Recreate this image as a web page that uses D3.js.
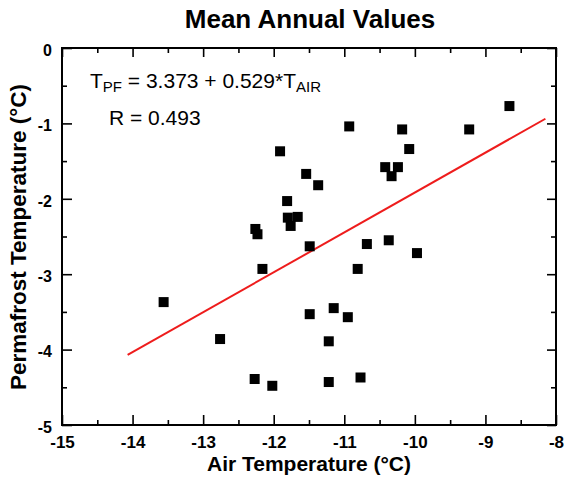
<!DOCTYPE html>
<html>
<head>
<meta charset="utf-8">
<script src="https://cdn.jsdelivr.net/npm/d3@7/dist/d3.min.js"></script>
<style>
  html, body { margin: 0; padding: 0; background: #fff; }
  svg { display: block; font-family: "Liberation Sans", Arial, Helvetica, sans-serif; }
</style>
</head>
<body>
<svg id="chart" width="564" height="488"></svg>
<script>
// ---- data ----
const airTemp = [-13.56, -12.76, -12.27, -12.02, -12.26, -12.23, -12.16, -11.91, -11.81, -11.80,
                 -11.66, -11.76, -11.54, -11.37, -11.49, -11.49, -11.15, -10.95, -11.22, -11.22,
                 -10.77, -10.93, -10.68, -10.81, -10.37, -9.97, -10.42, -10.24, -10.33, -10.08,
                 -10.18, -9.23, -8.66];
const permafrostTemp = [-3.37, -3.86, -4.39, -4.48, -2.40, -2.47, -2.93, -1.37, -2.03, -2.25,
                        -2.24, -2.36, -1.67, -1.82, -2.63, -3.53, -3.45, -3.57, -3.89, -4.43,
                        -4.37, -1.04, -2.60, -2.93, -2.55, -2.72, -1.58, -1.58, -1.70, -1.34,
                        -1.08, -1.08, -0.77];
const fitIntercept = 3.373;
const fitSlope = 0.529;
const fitRange = [-14.07, -8.15];
const xDomain = [-15, -8];
const yDomain = [-5, 0];
const xMajorTicks = [-15, -14, -13, -12, -11, -10, -9, -8];
const xMinorTicks = [-14.5, -13.5, -12.5, -11.5, -10.5, -9.5, -8.5];
const yMajorTicks = [-5, -4, -3, -2, -1, 0];
const yMinorTicks = [-4.5, -3.5, -2.5, -1.5, -0.5];
const titleText = "Mean Annual Values";
const xLabel = "Air Temperature (°C)";
const yLabel = "Permafrost Temperature (°C)";
const rText = "R = 0.493";

(function () {
// ---- layout ----
const svg = d3.select("#chart");
const pl = 62, pr = 556, pt = 48, pb = 425;
const x = d3.scaleLinear().domain(xDomain).range([pl, pr]);
const y = d3.scaleLinear().domain(yDomain).range([pb, pt]);
const fmt = d => String(d);

// title
svg.append("text")
  .attr("x", 310).attr("y", 28)
  .attr("text-anchor", "middle")
  .attr("font-weight", "bold").attr("font-size", 26)
  .text(titleText);

const axisStyle = g => {
  g.select(".domain").remove();
  g.selectAll(".tick line").attr("stroke", "#000").attr("stroke-width", 1.6);
};
// bottom
svg.append("g").attr("transform", `translate(0,${pb})`)
  .call(d3.axisBottom(x).tickValues(xMajorTicks).tickSizeInner(-10).tickSizeOuter(0).tickPadding(11).tickFormat(fmt))
  .call(axisStyle)
  .call(g => g.selectAll("text").attr("font-size", 17).attr("font-weight", "bold").attr("fill", "#000")
    .attr("font-family", "Liberation Sans, Arial, sans-serif"));
svg.append("g").attr("transform", `translate(0,${pb})`)
  .call(d3.axisBottom(x).tickValues(xMinorTicks).tickSizeInner(-5).tickSizeOuter(0).tickFormat(""))
  .call(axisStyle);
// top
svg.append("g").attr("transform", `translate(0,${pt})`)
  .call(d3.axisTop(x).tickValues(xMajorTicks).tickSizeInner(-9).tickSizeOuter(0).tickFormat(""))
  .call(axisStyle);
svg.append("g").attr("transform", `translate(0,${pt})`)
  .call(d3.axisTop(x).tickValues(xMinorTicks).tickSizeInner(-5).tickSizeOuter(0).tickFormat(""))
  .call(axisStyle);
// left
svg.append("g").attr("transform", `translate(${pl},0)`)
  .call(d3.axisLeft(y).tickValues(yMajorTicks).tickSizeInner(-10).tickSizeOuter(0).tickPadding(10).tickFormat(fmt))
  .call(axisStyle)
  .call(g => g.selectAll("text").attr("font-size", 16).attr("font-weight", "bold").attr("fill", "#000")
    .attr("font-family", "Liberation Sans, Arial, sans-serif").attr("dy", "0.45em"));
svg.append("g").attr("transform", `translate(${pl},0)`)
  .call(d3.axisLeft(y).tickValues(yMinorTicks).tickSizeInner(-5).tickSizeOuter(0).tickFormat(""))
  .call(axisStyle);
// right
svg.append("g").attr("transform", `translate(${pr},0)`)
  .call(d3.axisRight(y).tickValues(yMajorTicks).tickSizeInner(-9).tickSizeOuter(0).tickFormat(""))
  .call(axisStyle);
svg.append("g").attr("transform", `translate(${pr},0)`)
  .call(d3.axisRight(y).tickValues(yMinorTicks).tickSizeInner(-5).tickSizeOuter(0).tickFormat(""))
  .call(axisStyle);

// frame
svg.append("rect")
  .attr("x", x(xDomain[0])).attr("y", y(yDomain[1]))
  .attr("width", x(xDomain[1]) - x(xDomain[0]))
  .attr("height", y(yDomain[0]) - y(yDomain[1]))
  .attr("fill", "none").attr("stroke", "#000").attr("stroke-width", 2);

// regression line
svg.append("line")
  .attr("x1", x(fitRange[0])).attr("y1", y(fitIntercept + fitSlope * fitRange[0]))
  .attr("x2", x(fitRange[1])).attr("y2", y(fitIntercept + fitSlope * fitRange[1]))
  .attr("stroke", "#ee1c1c").attr("stroke-width", 2);

// points
const sq = 10;
svg.append("g").selectAll("rect")
  .data(airTemp.map((d, i) => [d, permafrostTemp[i]]))
  .join("rect")
  .attr("x", d => x(d[0]) - sq / 2)
  .attr("y", d => y(d[1]) - sq / 2)
  .attr("width", sq).attr("height", sq)
  .attr("fill", "#000");

// equation
const eq = svg.append("text").attr("x", 90).attr("y", 88).attr("font-size", 21).attr("fill", "#000");
eq.append("tspan").text("T");
eq.append("tspan").attr("font-size", 15).attr("dy", 4).text("PF");
eq.append("tspan").attr("dy", -4).text(` = ${fitIntercept} + ${fitSlope}*T`);
eq.append("tspan").attr("font-size", 15).attr("dy", 4).text("AIR");

svg.append("text").attr("x", 109).attr("y", 125).attr("font-size", 21).attr("fill", "#000").text(rText);

// axis labels
svg.append("text")
  .attr("x", 309).attr("y", 471)
  .attr("text-anchor", "middle")
  .attr("font-weight", "bold").attr("font-size", 21)
  .text(xLabel);
svg.append("text")
  .attr("transform", "translate(26,237) rotate(-90)")
  .attr("text-anchor", "middle")
  .attr("font-weight", "bold").attr("font-size", 22.5)
  .text(yLabel);
})();
</script>
</body>
</html>
